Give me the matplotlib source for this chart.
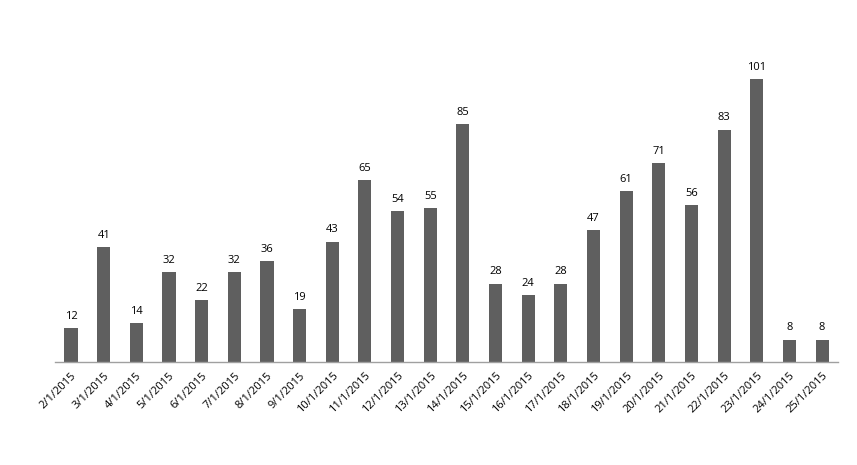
import matplotlib
matplotlib.use("Agg")
import matplotlib.pyplot as plt

labels = [f"{d}/1/2015" for d in range(2, 26)]
values = [12, 41, 14, 32, 22, 32, 36, 19, 43, 65, 54, 55, 85, 28, 24, 28, 47, 61, 71, 56, 83, 101, 8, 8]

plt.rcParams['font.family'] = ['Open Sans', 'DejaVu Sans']

fig = plt.figure(figsize=(8.57, 4.65), dpi=100)
W, H = 857, 465
left, right = 54.7, 838.5
base, ytop = 362, 54
ax = fig.add_axes([left / W, (H - base) / H, (right - left) / W, (base - ytop) / H])
x = list(range(len(values)))
bars = ax.bar(x, values, width=0.4, color='#5f5f5f')
ax.set_xlim(-0.5, len(values) - 0.5)
ax.set_ylim(0, 110)
for xi, v in zip(x, values):
    ax.text(xi, v + 2.2, str(v), ha='center', va='bottom', fontsize=8, color='#000000')
ax.set_xticks(x)
ax.set_xticklabels(labels, rotation=45, ha='right', rotation_mode='anchor', fontsize=8)
ax.tick_params(axis='x', length=0, pad=6)
ax.set_yticks([])
for s in ['top', 'right', 'left']:
    ax.spines[s].set_visible(False)
ax.spines['bottom'].set_color('#a0a0a0')
ax.spines['bottom'].set_linewidth(1)
fig.savefig('out.png', dpi=100)
